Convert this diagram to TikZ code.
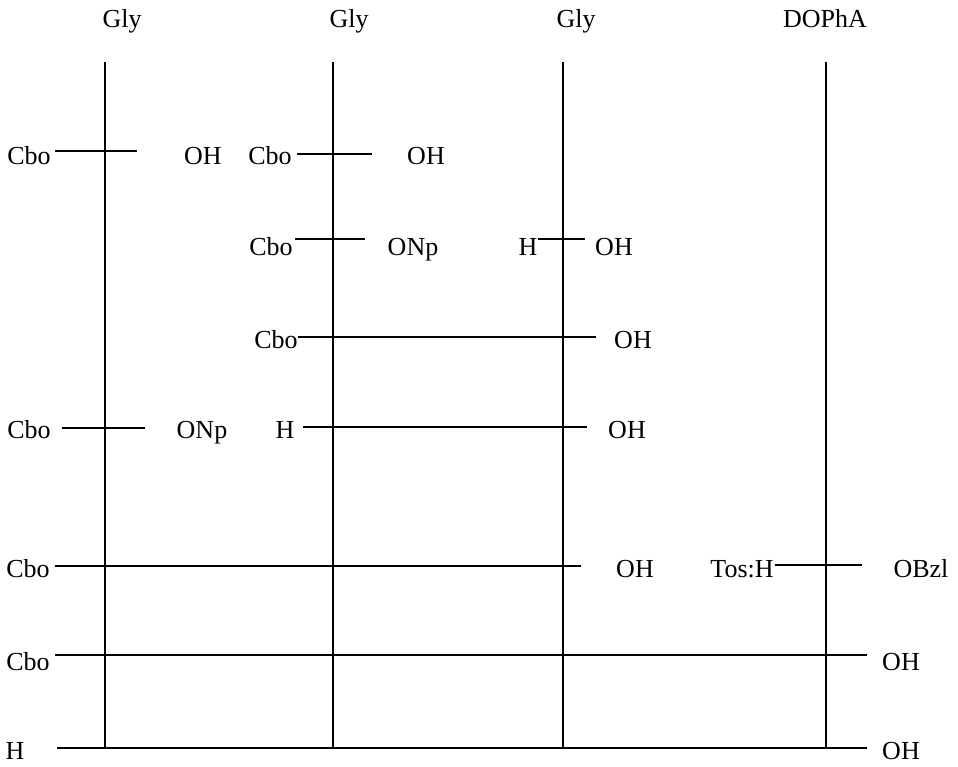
\documentclass[tikz,border=0pt]{standalone}
\usepackage{fontspec}
\setmainfont{Liberation Serif}
\begin{document}
\begin{tikzpicture}[x=1pt,y=-1pt,
  lbl/.style={inner sep=0pt,anchor=base,font=\fontsize{26}{30}\selectfont},
  bond/.style={line width=2.1pt},
  chain/.style={line width=2.1pt}]
\useasboundingbox[fill=white] (0,0) rectangle (958,766);
% headers
\node[lbl] (h1) at (122,27) {Gly};
\node[lbl] (h2) at (349,27) {Gly};
\node[lbl] (h3) at (576,27) {Gly};
\node[lbl] (h4) at (825,27) {DOPhA};
% vertical chains
\coordinate (t1) at (105,62); \coordinate (b1) at (105,748);
\coordinate (t2) at (333,62); \coordinate (b2) at (333,748);
\coordinate (t3) at (563,62); \coordinate (b3) at (563,748);
\coordinate (t4) at (826,62); \coordinate (b4) at (826,748);
\draw[chain] (t1) -- (b1);
\draw[chain] (t2) -- (b2);
\draw[chain] (t3) -- (b3);
\draw[chain] (t4) -- (b4);
% row 1
\node[lbl] (r1a) at (29,164) {Cbo};
\node[lbl] (r1b) at (203,164) {OH};
\node[lbl] (r1c) at (270,164) {Cbo};
\node[lbl] (r1d) at (426,164) {OH};
\coordinate (r1s1) at (55,151); \coordinate (r1e1) at (137,151);
\coordinate (r1s2) at (297,154); \coordinate (r1e2) at (372,154);
\draw[bond] (r1s1) -- (r1e1);
\draw[bond] (r1s2) -- (r1e2);
% row 2
\node[lbl] (r2a) at (271,255) {Cbo};
\node[lbl] (r2b) at (413,255) {ONp};
\node[lbl] (r2c) at (528,255) {H};
\node[lbl] (r2d) at (614,255) {OH};
\coordinate (r2s1) at (295,239); \coordinate (r2e1) at (365,239);
\coordinate (r2s2) at (538,239); \coordinate (r2e2) at (585,239);
\draw[bond] (r2s1) -- (r2e1);
\draw[bond] (r2s2) -- (r2e2);
% row 3
\node[lbl] (r3a) at (276,348) {Cbo};
\node[lbl] (r3b) at (633,348) {OH};
\coordinate (r3s) at (298,337); \coordinate (r3e) at (596,337);
\draw[bond] (r3s) -- (r3e);
% row 4
\node[lbl] (r4a) at (29,438) {Cbo};
\node[lbl] (r4b) at (202,438) {ONp};
\node[lbl] (r4c) at (285,438) {H};
\node[lbl] (r4d) at (627,438) {OH};
\coordinate (r4s1) at (62,428); \coordinate (r4e1) at (145,428);
\coordinate (r4s2) at (303,427); \coordinate (r4e2) at (587,427);
\draw[bond] (r4s1) -- (r4e1);
\draw[bond] (r4s2) -- (r4e2);
% row 5
\node[lbl] (r5a) at (28,577) {Cbo};
\node[lbl] (r5b) at (635,577) {OH};
\node[lbl] (r5c) at (742,577) {Tos:H};
\node[lbl] (r5d) at (921,577) {OBzl};
\coordinate (r5s1) at (55,566); \coordinate (r5e1) at (581,566);
\coordinate (r5s2) at (775,565); \coordinate (r5e2) at (862,565);
\draw[bond] (r5s1) -- (r5e1);
\draw[bond] (r5s2) -- (r5e2);
% row 6
\node[lbl] (r6a) at (28,670) {Cbo};
\node[lbl] (r6b) at (901,670) {OH};
\coordinate (r6s) at (55,655); \coordinate (r6e) at (867,655);
\draw[bond] (r6s) -- (r6e);
% row 7
\node[lbl] (r7a) at (15,759) {H};
\node[lbl] (r7b) at (901,759) {OH};
\coordinate (r7s) at (57,748); \coordinate (r7e) at (867,748);
\draw[bond] (r7s) -- (r7e);
\end{tikzpicture}
\end{document}
